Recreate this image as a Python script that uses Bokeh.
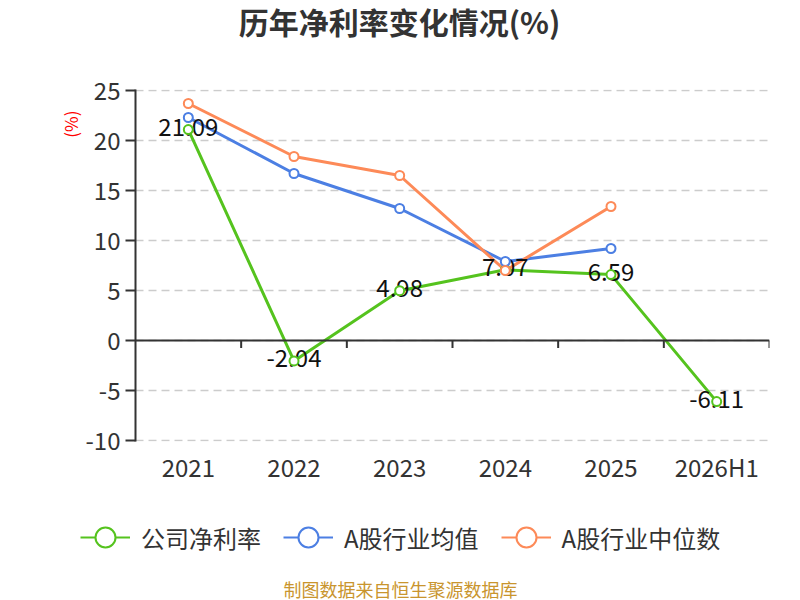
from bokeh.plotting import figure
from bokeh.layouts import column
from bokeh.models import (Range1d, FixedTicker, Span, Legend, LegendItem,
                          ColumnDataSource, Title, Label)
from bokeh.core.properties import value
from bokeh.embed import file_html
from bokeh.resources import INLINE

# ---- data ----
categories = ["2021", "2022", "2023", "2024", "2025", "2026H1"]
company = [21.09, -2.04, 4.98, 7.07, 6.59, -6.11]
ind_mean = [22.3, 16.7, 13.2, 7.9, 9.2]
ind_median = [23.7, 18.4, 16.5, 7.0, 13.4]
y_ticks = [-10, -5, 0, 5, 10, 15, 20, 25]
series_names = ["公司净利率", "A股行业均值", "A股行业中位数"]
title_text = "历年净利率变化情况(%)"
unit_text = "(%)"
footer_text = "制图数据来自恒生聚源数据库"

GREEN = "#55c31e"
BLUE = "#4c7fe3"
ORANGE = "#fd8a58"
AXIS = "#333333"
TXT = "#333333"
CJK = "Noto Sans CJK SC"
W = 800

n = len(categories)
xs = [i + 0.5 for i in range(n)]
series = [(xs, company), (xs[:len(ind_mean)], ind_mean), (xs[:len(ind_median)], ind_median)]
colors = [GREEN, BLUE, ORANGE]

# ---------- header (title) ----------
top = figure(width=W, height=50, output_backend="svg", toolbar_location=None,
             x_range=Range1d(0, W), y_range=Range1d(50, 0),
             x_axis_type=None, y_axis_type=None, min_border=0)
top.frame_align = False
top.outline_line_color = None
top.add_layout(Label(x=399, y=20, text=title_text, text_align="center",
                     text_baseline="middle", text_font_size="30px",
                     text_font_style="bold", text_color="#333333", text_font=CJK))

# ---------- main chart ----------
pad = 0.1  # keeps the grid lines at the range ends inside the frame
p = figure(width=W, height=450, output_backend="svg", toolbar_location=None,
           x_range=Range1d(0, n), y_range=Range1d(y_ticks[0] - pad, y_ticks[-1] + pad),
           min_border_left=135, min_border_right=31, min_border_top=39,
           min_border_bottom=59)
p.outline_line_color = None

p.xaxis.ticker = FixedTicker(ticks=xs)
p.xaxis.major_label_overrides = {x: c for x, c in zip(xs, categories)}
p.xaxis.axis_line_color = None
p.xaxis.major_tick_line_color = None
p.xaxis.minor_tick_line_color = None
p.xaxis.major_label_text_font_size = "24px"
p.xaxis.major_label_text_color = TXT
p.xaxis.major_label_text_font = CJK
p.xaxis.major_label_standoff = 1

p.yaxis.ticker = FixedTicker(ticks=y_ticks)
p.yaxis.major_label_overrides = {t: str(t) for t in y_ticks}
p.yaxis.axis_line_color = AXIS
p.yaxis.axis_line_width = 2
p.yaxis.major_tick_line_color = AXIS
p.yaxis.major_tick_line_width = 2
p.yaxis.major_tick_out = 10
p.yaxis.major_tick_in = 0
p.yaxis.minor_tick_line_color = None
p.yaxis.major_label_text_font_size = "24px"
p.yaxis.major_label_text_color = TXT
p.yaxis.major_label_text_font = CJK
p.yaxis.major_label_standoff = 5

p.xgrid.grid_line_color = None
p.ygrid.grid_line_color = "#cccccc"
p.ygrid.grid_line_width = 1.5
p.ygrid.grid_line_dash = "8 5"

# zero axis line with category boundary ticks
p.add_layout(Span(location=0, dimension="width", line_color=AXIS, line_width=2))
bounds = list(range(1, n + 1))
p.segment(x0=bounds, y0=[0] * len(bounds), x1=bounds, y1=[-0.75] * len(bounds),
          line_color=AXIS, line_width=2)

for (sx, sy), c in zip(series, colors):
    p.line(sx, sy, line_color=c, line_width=3)

src = ColumnDataSource(dict(x=xs, y=company, t=[f"{v:.2f}" for v in company]))
p.text(x="x", y="y", text="t", source=src, text_align="center",
       text_baseline="middle", text_font_size="24px", text_color="#111111",
       text_font=value(CJK), y_offset=-3)

for (sx, sy), c in zip(series, colors):
    p.scatter(sx, sy, size=9, fill_color="white", line_color=c, line_width=2)

p.add_layout(Title(text=unit_text, align="right", text_color="#ff0000",
                   text_font_size="17px", text_font=CJK, text_font_style="normal",
                   offset=21, standoff=0), "left")

# ---------- footer (legend + source) ----------
bot = figure(width=W, height=100, output_backend="svg", toolbar_location=None,
             x_range=Range1d(0, W), y_range=Range1d(600, 500),
             x_axis_type=None, y_axis_type=None, min_border=0)
bot.frame_align = False
bot.outline_line_color = None
items = []
for name, (sx, sy), c in zip(series_names, series, colors):
    # series drawn in this panel's (pixel) ranges fall outside its view: legend swatches only
    r_line = bot.line(sx, sy, line_color=c, line_width=2)
    r_mark = bot.scatter(sx, sy, fill_color="white", line_color=c, line_width=2)
    items.append(LegendItem(label=name, renderers=[r_line, r_mark]))
legend = Legend(items=items, orientation="horizontal", location=(80, 38),
                glyph_width=50, glyph_height=50, label_standoff=11, spacing=22,
                padding=0, margin=0, border_line_color=None,
                background_fill_alpha=0, label_text_font_size="24px",
                label_text_color=TXT, label_text_font=CJK)
bot.add_layout(legend, "center")
bot.add_layout(Label(x=400, y=588, text=footer_text, text_align="center",
                     text_baseline="middle", text_font_size="18px",
                     text_color="#c9952e", text_font=CJK))

layout = column(top, p, bot, spacing=0)
open("out.html", "w").write(file_html(layout, INLINE))
